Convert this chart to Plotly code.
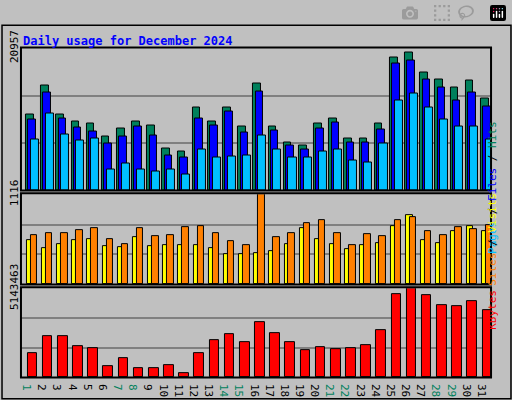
import plotly.graph_objects as go

days = list(range(1, 32))
weekend_days = [1, 7, 8, 14, 15, 21, 22, 28, 29]

hits = [11217, 15510, 11217, 10109, 9832, 7893, 9140, 10109, 9555, 6232, 5678, 12186, 10109, 12186, 9417, 15787,
        9417, 7062, 6647, 9832, 10524, 7616, 7616, 9832, 19526, 20357, 17310, 16341, 15094, 16202, 13571]
files = [10386, 14402, 10524, 9278, 8724, 6924, 7893, 9417, 8032, 5124, 4847, 10524, 9555, 11632, 8586, 14540,
         8863, 6647, 6093, 9140, 9971, 7062, 7062, 9001, 18695, 19110, 16341, 15094, 13294, 14402, 12325]
pages = [7478, 11355, 8170, 7339, 7616, 3047, 4016, 3047, 2770, 3047, 2354, 6093, 4847, 4985, 5124, 8032,
         6093, 4847, 4847, 5678, 5955, 4431, 4154, 6924, 13294, 14263, 12186, 10386, 9417, 9417, 7478]
visits = [546, 449, 497, 546, 558, 473, 461, 582, 473, 485, 485, 485, 449, 376, 376, 388,
          412, 497, 703, 558, 497, 437, 485, 509, 728, 861, 546, 509, 667, 728, 667]
sites = [606, 643, 643, 679, 703, 558, 497, 703, 594, 606, 716, 728, 643, 534, 485, 1116,
         582, 631, 764, 800, 631, 485, 619, 594, 800, 837, 667, 606, 716, 691, 740]
kbytes = [1426700, 2384000, 2384000, 1820900, 1708300, 638200, 1145100, 525600, 525600, 694600, 244000,
          1426700, 2158800, 2496700, 2046100, 3172500, 2553000, 2046100, 1595600, 1764600, 1651900,
          1708300, 1877200, 2722000, 4805600, 5143463, 4749300, 4186200, 4129800, 4411400, 3904600]

hits_max, sites_max, kb_max = 20957, 1116, 5143463
mono = "DejaVu Sans Mono"

fig = go.Figure()
line = dict(color="black", width=1)
fig.add_bar(x=days, y=hits, marker=dict(color="#00805C", line=line), offset=-0.17, width=0.5, xaxis="x", yaxis="y")
fig.add_bar(x=days, y=files, marker=dict(color="#0000FF", line=line), offset=-0.02, width=0.5, xaxis="x", yaxis="y")
fig.add_bar(x=days, y=pages, marker=dict(color="#00C0FF", line=line), offset=0.14, width=0.53, xaxis="x", yaxis="y")
fig.add_bar(x=days, y=visits, marker=dict(color="#FFFF00", line=line), offset=-0.12, width=0.45, xaxis="x2", yaxis="y2")
fig.add_bar(x=days, y=sites, marker=dict(color="#FF8000", line=line), offset=0.14, width=0.43, xaxis="x2", yaxis="y2")
fig.add_bar(x=days, y=kbytes, marker=dict(color="#FF0000", line=line), offset=-0.06, width=0.63, xaxis="x3", yaxis="y3")

xdom = [20 / 512, 491 / 512]
ticktext = [f'<span style="color:{"#00805C" if d in weekend_days else "black"}">{d}</span>' for d in days]

def xax(anchor, show):
    return dict(domain=xdom, range=[0.5, 31.5], anchor=anchor, showgrid=False, zeroline=False,
                tickvals=days if show else [], ticktext=ticktext if show else [], ticks="",
                tickfont=dict(family=mono, size=11), showline=False, fixedrange=True)

def yax(dom, mx):
    return dict(domain=dom, range=[0, mx * 1.005], tickvals=[mx / 3, 2 * mx / 3, mx],
                ticktext=["", "", str(mx)], tickangle=-90, showgrid=True, gridcolor="#808080", gridwidth=1.5,
                zeroline=False, ticks="", tickfont=dict(family=mono, size=11, color="black"), fixedrange=True)

fig.update_layout(
    width=512, height=400, margin=dict(l=0, r=0, t=0, b=0),
    paper_bgcolor="#C0C0C0", plot_bgcolor="#C0C0C0",
    barmode="overlay", showlegend=False, bargap=0,
    xaxis=xax("y", False), xaxis2=xax("y2", False), xaxis3=xax("y3", True),
    yaxis=yax([1 - 177 / 400, 1 - 25 / 400], hits_max),
    yaxis2=yax([1 - 277 / 400, 1 - 181 / 400], sites_max),
    yaxis3=yax([1 - 376 / 400, 1 - 281 / 400], kb_max),
)

# panel frames
for y0, y1 in [(177, 25), (277, 180), (376, 280)]:
    fig.add_shape(type="rect", xref="paper", yref="paper", x0=xdom[0], x1=xdom[1],
                  y0=1 - y0 / 400, y1=1 - y1 / 400, line=dict(color="black", width=2))
# outer border
fig.add_shape(type="rect", xref="paper", yref="paper", x0=0.002, x1=0.998, y0=0.003, y1=0.997,
              line=dict(color="black", width=1.5))

fig.add_annotation(text="<b>Daily usage for December 2024</b>", xref="paper", yref="paper",
                   x=20 / 512, y=1 - 8 / 400, xanchor="left", yanchor="top", showarrow=False,
                   font=dict(family=mono, size=12, color="#0000FF"))
side = [
    ('<span style="color:#00C0FF">Pages</span> / <span style="color:#0000FF">Files</span> / <span style="color:#00805C">Hits</span>', 101),
    ('<span style="color:#FF8000">Sites</span> / <span style="color:#FFFF00">Visits</span>', 229),
    ('<span style="color:#FF0000">KBytes</span>', 328),
]
for txt, yc in side:
    fig.add_annotation(text=txt, xref="paper", yref="paper", x=501 / 512, y=1 - yc / 400,
                       textangle=-90, showarrow=False, font=dict(family=mono, size=11, color="black"))

fig.write_html("out.html", post_script="document.body.style.margin='0';document.body.style.overflow='hidden';")
